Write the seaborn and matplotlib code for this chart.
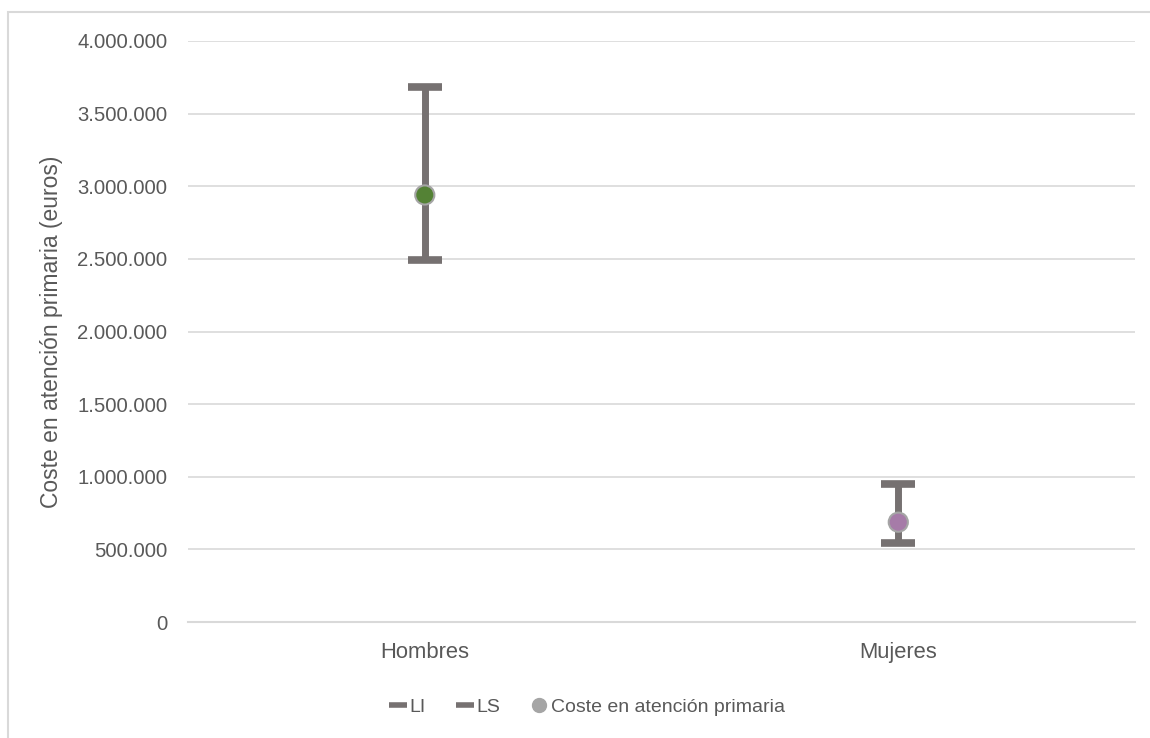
import matplotlib
matplotlib.use("Agg")
import matplotlib.pyplot as plt
import matplotlib.ticker as mticker
import pandas as pd
import seaborn as sns
from matplotlib.lines import Line2D
from matplotlib.patches import Rectangle

# ── DATA ──
categories = ["Hombres", "Mujeres"]
coste = [2940000, 688000]
li = [2490000, 545000]
ls = [3680000, 950000]
point_colors = ["#548235", "#A67BA8"]

y_ticks = [0, 500000, 1000000, 1500000, 2000000, 2500000, 3000000, 3500000, 4000000]

df = pd.DataFrame({"grupo": categories, "coste": coste, "li": li, "ls": ls})
df["x"] = [i + 0.5 for i in range(len(categories))]

TEXT = "#595959"
GRID = "#D9D9D9"
BAR = "#767171"

sns.set_style("white")
plt.rcParams["font.family"] = ["Liberation Sans", "DejaVu Sans"]

fig = plt.figure(figsize=(11.5, 7.38), dpi=100)
ax = fig.add_axes([0.1635, 0.157, 0.8235, 0.7875])

# outer chart frame
fig.patches.append(Rectangle((8 / 1150, -0.05), 1.2, 1 - 12 / 738 + 0.05,
                             transform=fig.transFigure, fill=False,
                             edgecolor=GRID, linewidth=1.5))

# high-low bars with caps
ax.vlines(df["x"], df["li"], df["ls"], color=BAR, linewidth=5, zorder=2)
ax.plot(df["x"], df["li"], linestyle="none", marker="_", markersize=25,
        markeredgewidth=5.5, color=BAR, zorder=3)
ax.plot(df["x"], df["ls"], linestyle="none", marker="_", markersize=25,
        markeredgewidth=5.5, color=BAR, zorder=3)

sns.scatterplot(data=df, x="x", y="coste", hue="grupo", palette=point_colors,
                s=190, edgecolor="#A5A5A5", linewidth=1.5, zorder=4,
                ax=ax, legend=False)

ax.set_xlim(0, 2)
ax.set_ylim(0, 4000000)
ax.set_yticks(y_ticks)
ax.yaxis.set_major_formatter(
    mticker.FuncFormatter(lambda v, p: f"{int(v):,}".replace(",", ".")))
ax.set_xticks(df["x"])
ax.set_xticklabels(categories)
ax.set_xticks([0, 1, 2], minor=True)
ax.tick_params(axis="x", which="major", length=0, pad=14, labelsize=15.8,
               labelcolor=TEXT)
ax.tick_params(axis="x", which="minor", length=6, width=1.5, color=GRID)
ax.tick_params(axis="y", length=0, pad=15, labelsize=14.6, labelcolor=TEXT)

ax.grid(True, axis="y", color=GRID, linewidth=1.2)
ax.set_axisbelow(True)
for s in ["top", "right", "left"]:
    ax.spines[s].set_visible(False)
ax.spines["bottom"].set_color(GRID)
ax.spines["bottom"].set_linewidth(1.5)

ax.set_xlabel("")
ax.set_ylabel("Coste en atención primaria (euros)", fontsize=16.5, color=TEXT,
              labelpad=10)

handles = [
    Line2D([0], [0], color=BAR, lw=0, marker="_", markersize=13,
           markeredgewidth=4, label="LI"),
    Line2D([0], [0], color=BAR, lw=0, marker="_", markersize=13,
           markeredgewidth=4, label="LS"),
    Line2D([0], [0], color="#A5A5A5", lw=0, marker="o", markersize=10,
           label="Coste en atención primaria"),
]
fig.legend(handles=handles, loc="center", bbox_to_anchor=(0.511, 1 - 707 / 738),
           ncol=3, frameon=False, fontsize=14, labelcolor=TEXT,
           handlelength=0.8, handletextpad=0.2, columnspacing=1.6)

fig.savefig("out.png", dpi=100)
